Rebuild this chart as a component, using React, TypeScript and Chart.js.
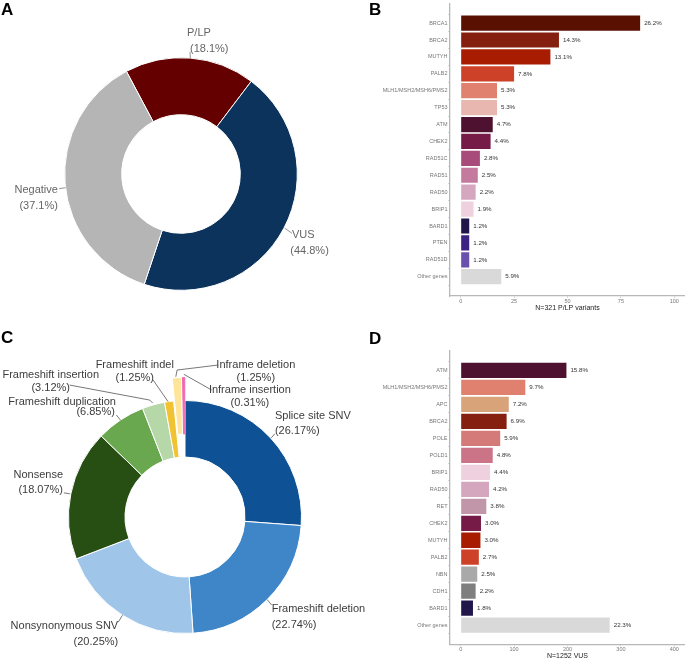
import React, { useEffect, useRef } from "react";
import { Chart, registerables } from "chart.js";

Chart.register(...registerables);

const FONT = "'Liberation Sans', Arial, Helvetica, sans-serif";

// ---------------- Panel A data ----------------
const resultCategories = ["P/LP", "VUS", "Negative"];
const resultPercents = [18.1, 44.8, 37.1];

// ---------------- Panel B data ----------------
const plpGenes = [
  "BRCA1", "BRCA2", "MUTYH", "PALB2", "MLH1/MSH2/MSH6/PMS2", "TP53", "ATM", "CHEK2",
  "RAD51C", "RAD51", "RAD50", "BRIP1", "BARD1", "PTEN", "RAD51D", "Other genes",
];
const plpCounts = [84, 46, 42, 25, 17, 17, 15, 14, 9, 8, 7, 6, 4, 4, 4, 19];
const plpPercentLabels = [
  "26.2%", "14.3%", "13.1%", "7.8%", "5.3%", "5.3%", "4.7%", "4.4%",
  "2.8%", "2.5%", "2.2%", "1.9%", "1.2%", "1.2%", "1.2%", "5.9%",
];
const plpAxisTicks = [0, 25, 50, 75, 100];
const plpAxisRange = [-5, 105];
const plpTitle = "N=321 P/LP variants";

// ---------------- Panel C data ----------------
const variantTypes = [
  "Splice site SNV", "Frameshift deletion", "Nonsynonymous SNV", "Nonsense",
  "Frameshift duplication", "Frameshift insertion", "Frameshift indel",
  "Inframe deletion", "Inframe insertion",
];
const variantPercents = [26.17, 22.74, 20.25, 18.07, 6.85, 3.12, 1.25, 1.25, 0.31];

// ---------------- Panel D data ----------------
const vusGenes = [
  "ATM", "MLH1/MSH2/MSH6/PMS2", "APC", "BRCA2", "POLE", "POLD1", "BRIP1", "RAD50",
  "RET", "CHEK2", "MUTYH", "PALB2", "NBN", "CDH1", "BARD1", "Other genes",
];
const vusCounts = [198, 121, 90, 86, 74, 60, 55, 53, 48, 38, 37, 34, 31, 28, 23, 279];
const vusPercentLabels = [
  "15.8%", "9.7%", "7.2%", "6.9%", "5.9%", "4.8%", "4.4%", "4.2%",
  "3.8%", "3.0%", "3.0%", "2.7%", "2.5%", "2.2%", "1.8%", "22.3%",
];
const vusAxisTicks = [0, 100, 200, 300, 400];
const vusAxisRange = [-20, 420];
const vusTitle = "N=1252 VUS";

// ---------------- Styles ----------------
const resultColors = ["#650000", "#0b335c", "#b5b5b5"];
const variantColors = [
  "#0e5194", "#3e86c8", "#9fc5e8", "#274e13", "#6aa84f", "#b6d7a8", "#f1c232", "#ffe599", "#f06ab0",
];
const variantBorderColors = [
  "#ffffff", "#ffffff", "#ffffff", "#ffffff", "#ffffff", "#ffffff", "#ffffff", "#ffffff", "#f06ab0",
];
const variantExplode = [0, 0, 0, 0, 0, 0, 0, 23, 23];

const plpColors = [
  "#5a1000", "#852010", "#a81c02", "#ce4129", "#e0806e", "#e8b8b0", "#4f1130", "#761b47",
  "#a84b7a", "#c47a9f", "#d5a7bf", "#efd0de", "#21164a", "#3a2382", "#6a50ae", "#d9d9d9",
];
const vusColors = [
  "#4f1130", "#e0806e", "#d9a37a", "#852010", "#d47a78", "#cb7387", "#efd0de", "#d5a7bf",
  "#c196a9", "#761b47", "#a81c02", "#ce4129", "#a9a9a9", "#7f7f7f", "#21164a", "#d9d9d9",
];

type Pt = [number, number];
type LabelLayout = { align: CanvasTextAlign; name: Pt; pct: Pt; leader: Pt[] };

const resultLabelLayout: LabelLayout[] = [
  { align: "left", name: [-3.3, -25.4], pct: [-0.3, -9.4], leader: [[0, 0], [-0.3, -6.4]] },
  { align: "left", name: [8.1, 6.9], pct: [6.4, 22.9], leader: [[1, 0], [8, 5]] },
  { align: "right", name: [-7.2, 6.5], pct: [-7.2, 22.5], leader: [[0.5, 4], [-6, 5]] },
];

const variantLabelLayout: LabelLayout[] = [
  { align: "left", name: [4.6, -21.7], pct: [4.6, -6.7], leader: [[1, 0], [4.6, -4]] },
  { align: "left", name: [4.5, 9.8], pct: [4.5, 25], leader: [[0, 0], [4.5, 5.5]] },
  { align: "right", name: [-4.2, 10.8], pct: [-4.2, 26.8], leader: [[0, 0], [-4.2, 7]] },
  { align: "right", name: [-7.8, -18.8], pct: [-7.8, -3.8], leader: [[-1, 0], [-7, -1]] },
  { align: "right", name: [-4.5, -18], pct: [-5.5, -8], leader: [[0, 0], [-4, -5]] },
  { align: "center", name: [-102.7, -29.8], pct: [-102.7, -16.8], leader: [[-0.7, -1.8], [-3.7, -4.8], [-83.7, -19.8]] },
  { align: "center", name: [-34.3, -36.6], pct: [-34.3, -23.6], leader: [[-1, 0], [-16, -21.6]] },
  { align: "center", name: [79, -12.7], pct: [79, 0.3], leader: [[-1, -1], [0.3, -7.7], [41.3, -12.7]] },
  { align: "center", name: [66.2, 12.5], pct: [66.2, 25.5], leader: [[0.2, -3.2], [28, 12.5]] },
];

type DonutProps = {
  left: number; top: number; width: number; height: number;
  cx: number; cy: number; radius: number; cutout: string; rotation: number;
  labels: string[]; values: number[]; colors: string[]; borderColors?: string[];
  explode?: number[]; decimals: number; layout: LabelLayout[];
  textColor: string; leaderColor: string; fontSize: number;
};

function Donut(p: DonutProps) {
  const ref = useRef<HTMLCanvasElement>(null);
  useEffect(() => {
    const canvas = ref.current!;
    const side = 2 * p.radius + 20;
    const padding = {
      left: p.cx - side / 2,
      right: p.width - (p.cx + side / 2),
      top: p.cy - side / 2,
      bottom: p.height - (p.cy + side / 2),
    };
    const explode = p.explode || p.values.map(() => 0);
    // pull exploded slices outward: same angles and radii, translated centre
    const explodePlugin = {
      id: "explodeSlices",
      afterDatasetUpdate(chart: any) {
        const ca = chart.chartArea;
        const cx0 = (ca.left + ca.right) / 2;
        const cy0 = (ca.top + ca.bottom) / 2;
        const meta = chart.getDatasetMeta(0);
        meta.data.forEach((el: any, i: number) => {
          const e = explode[i];
          if (!e) return;
          const mid = (el.startAngle + el.endAngle) / 2;
          el.x = cx0 + Math.cos(mid) * e;
          el.y = cy0 + Math.sin(mid) * e;
        });
      },
    };
    const labelPlugin = {
      id: "donutLabels",
      afterDatasetsDraw(chart: any) {
        const ctx = chart.ctx as CanvasRenderingContext2D;
        const meta = chart.getDatasetMeta(0);
        ctx.save();
        ctx.font = `${p.fontSize}px ${FONT}`;
        ctx.fillStyle = p.textColor;
        ctx.strokeStyle = p.leaderColor;
        ctx.lineWidth = 0.8;
        ctx.textBaseline = "middle";
        meta.data.forEach((el: any, i: number) => {
          const q = el.getProps(["x", "y", "startAngle", "endAngle", "outerRadius"], true);
          const mid = (q.startAngle + q.endAngle) / 2;
          const r = q.outerRadius;
          const ax = q.x + Math.cos(mid) * r;
          const ay = q.y + Math.sin(mid) * r;
          const L = p.layout[i];
          ctx.beginPath();
          L.leader.forEach(([dx, dy], k) => {
            if (k === 0) ctx.moveTo(ax + dx, ay + dy);
            else ctx.lineTo(ax + dx, ay + dy);
          });
          ctx.stroke();
          ctx.textAlign = L.align;
          ctx.fillText(p.labels[i], ax + L.name[0], ay + L.name[1]);
          ctx.fillText(`(${p.values[i].toFixed(p.decimals)}%)`, ax + L.pct[0], ay + L.pct[1]);
        });
        ctx.restore();
      },
    };
    const chart = new Chart(canvas, {
      type: "doughnut",
      data: {
        labels: p.labels,
        datasets: [
          {
            data: p.values,
            backgroundColor: p.colors,
            borderColor: p.borderColors || p.colors.map(() => "#ffffff"),
            borderWidth: 1,
            hoverBorderWidth: 1,
            hoverOffset: 0,
          } as any,
        ],
      },
      options: {
        responsive: false,
        animation: false,
        events: [],
        rotation: p.rotation,
        cutout: p.cutout,
        radius: p.radius,
        layout: { padding, autoPadding: false } as any,
        plugins: { legend: { display: false }, tooltip: { enabled: false } },
      } as any,
      plugins: [explodePlugin, labelPlugin],
    });
    return () => chart.destroy();
  }, []);
  return (
    <div style={{ position: "absolute", left: p.left, top: p.top, width: p.width, height: p.height }}>
      <canvas ref={ref} width={p.width} height={p.height} style={{ width: p.width, height: p.height }} />
    </div>
  );
}

type BarProps = {
  left: number; top: number; width: number; height: number;
  areaTop: number; areaBottom: number; axisWidth: number;
  genes: string[]; counts: number[]; pctLabels: string[]; colors: string[];
  ticks: number[]; range: number[]; title: string; titleOffset: number;
};

function GeneBars(p: BarProps) {
  const ref = useRef<HTMLCanvasElement>(null);
  useEffect(() => {
    const canvas = ref.current!;
    const axisColor = "#b8b8b8";
    const valuePlugin = {
      id: "valueLabels",
      afterDatasetsDraw(chart: any) {
        const ctx = chart.ctx as CanvasRenderingContext2D;
        const meta = chart.getDatasetMeta(0);
        ctx.save();
        ctx.font = `6.2px ${FONT}`;
        ctx.fillStyle = "#333333";
        ctx.textAlign = "left";
        ctx.textBaseline = "middle";
        meta.data.forEach((bar: any, i: number) => {
          const q = bar.getProps(["x", "y"], true);
          ctx.fillText(p.pctLabels[i], q.x + 4, q.y);
        });
        const a = chart.chartArea;
        ctx.font = `7px ${FONT}`;
        ctx.fillStyle = "#222222";
        ctx.textAlign = "center";
        ctx.fillText(p.title, (a.left + a.right) / 2, a.bottom + p.titleOffset);
        ctx.restore();
      },
    };
    const chart = new Chart(canvas, {
      type: "bar",
      data: {
        datasets: [
          {
            data: p.counts.map((c, i) => ({ x: c, y: i })),
            backgroundColor: p.colors,
            borderWidth: 0,
            barPercentage: 0.9,
            categoryPercentage: 1,
          } as any,
        ],
      },
      options: {
        indexAxis: "y",
        responsive: false,
        animation: false,
        events: [],
        layout: { padding: { top: p.areaTop, bottom: 0, left: 0, right: 0 }, autoPadding: false } as any,
        plugins: { legend: { display: false }, tooltip: { enabled: false } },
        scales: {
          x: {
            type: "linear",
            min: p.range[0],
            max: p.range[1],
            afterBuildTicks: (s: any) => {
              s.ticks = p.ticks.map((v) => ({ value: v }));
            },
            afterFit: (s: any) => {
              s.height = p.height - p.areaBottom;
            },
            border: { display: true, color: axisColor, width: 1.3 },
            grid: { display: true, drawOnChartArea: false, drawTicks: true, tickLength: 2, tickColor: axisColor, tickWidth: 0.6 },
            ticks: { font: { size: 5.5, family: FONT }, color: "#777777", padding: 0, maxRotation: 0, autoSkip: false },
          },
          y: {
            type: "linear",
            reverse: true,
            min: -0.6,
            max: p.genes.length - 0.4,
            afterBuildTicks: (s: any) => {
              s.ticks = p.genes.map((_, i) => ({ value: i }));
            },
            afterFit: (s: any) => {
              s.width = p.axisWidth;
            },
            border: { display: true, color: axisColor, width: 1.3 },
            grid: { display: true, drawOnChartArea: false, drawTicks: true, tickLength: 2, tickColor: axisColor, tickWidth: 0.6 },
            ticks: {
              font: { size: 5.5, family: FONT },
              color: "#777777",
              padding: 0.5,
              autoSkip: false,
              callback: (v: any) => p.genes[Math.round(Number(v))] ?? "",
            },
          },
        },
      } as any,
      plugins: [valuePlugin],
    });
    return () => chart.destroy();
  }, []);
  return (
    <div style={{ position: "absolute", left: p.left, top: p.top, width: p.width, height: p.height }}>
      <canvas ref={ref} width={p.width} height={p.height} style={{ width: p.width, height: p.height }} />
    </div>
  );
}

function PanelLetter({ text, left, top }: { text: string; left: number; top: number }) {
  return (
    <div
      style={{
        position: "absolute", left, top, fontFamily: FONT, fontWeight: "bold",
        fontSize: 17, lineHeight: "20px", color: "#000",
      }}
    >
      {text}
    </div>
  );
}

export default function App() {
  return (
    <div style={{ position: "absolute", left: 0, top: 0, width: 685, height: 659, background: "#fff", overflow: "hidden" }}>
      <Donut
        left={0} top={0} width={340} height={320}
        cx={181} cy={174} radius={116.3} cutout="51%" rotation={-28}
        labels={resultCategories} values={resultPercents} colors={resultColors}
        decimals={1} layout={resultLabelLayout}
        textColor="#666666" leaderColor="#777777" fontSize={11}
      />
      <Donut
        left={0} top={320} width={385} height={339}
        cx={185} cy={197} radius={116.5} cutout="51.5%" rotation={0}
        labels={variantTypes} values={variantPercents} colors={variantColors}
        borderColors={variantBorderColors} explode={variantExplode}
        decimals={2} layout={variantLabelLayout}
        textColor="#3c3c3c" leaderColor="#555555" fontSize={11}
      />
      <GeneBars
        left={340} top={0} width={345} height={320}
        areaTop={2.85} areaBottom={296} axisWidth={110}
        genes={plpGenes} counts={plpCounts} pctLabels={plpPercentLabels} colors={plpColors}
        ticks={plpAxisTicks} range={plpAxisRange} title={plpTitle} titleOffset={11.7}
      />
      <GeneBars
        left={340} top={320} width={345} height={339}
        areaTop={31.1} areaBottom={324.5} axisWidth={110}
        genes={vusGenes} counts={vusCounts} pctLabels={vusPercentLabels} colors={vusColors}
        ticks={vusAxisTicks} range={vusAxisRange} title={vusTitle} titleOffset={11.4}
      />
      <PanelLetter text="A" left={1} top={0} />
      <PanelLetter text="B" left={369} top={0} />
      <PanelLetter text="C" left={1} top={328} />
      <PanelLetter text="D" left={369} top={329} />
    </div>
  );
}
